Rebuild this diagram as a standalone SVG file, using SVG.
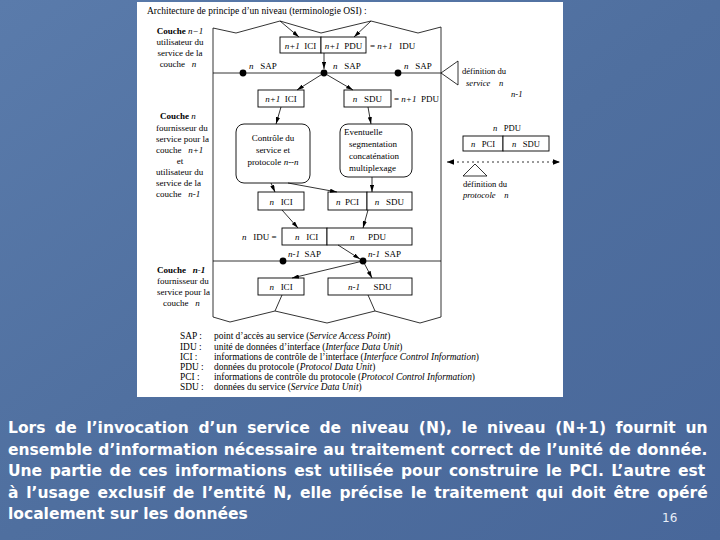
<svg xmlns="http://www.w3.org/2000/svg" width="720" height="540" viewBox="0 0 720 540">
<defs>
<linearGradient id="bg" x1="0" y1="0" x2="1" y2="1">
<stop offset="0" stop-color="#5a7bab"/>
<stop offset="0.5" stop-color="#4f6f9f"/>
<stop offset="1" stop-color="#48679a"/>
</linearGradient>
<marker id="ah" viewBox="0 0 10 6" refX="10" refY="3" markerWidth="7" markerHeight="4.2" markerUnits="userSpaceOnUse" orient="auto"><path d="M0,0L10,3L0,6z" fill="#000"/></marker>
<marker id="ah2" viewBox="0 0 10 8" refX="10" refY="4" markerWidth="7" markerHeight="6" markerUnits="userSpaceOnUse" orient="auto-start-reverse"><path d="M0,0L10,4L0,8z" fill="#000"/></marker>
</defs>
<style>
.t{font-family:"Liberation Serif","Times New Roman",serif;font-size:9px;fill:#000;white-space:pre}
.s{font-size:8.6px}
.lg{font-size:9.4px}
.i{font-style:italic}
.b{font-weight:bold}
.m{text-anchor:middle}
.e{text-anchor:end}
.box{fill:#fff;stroke:#000;stroke-width:0.9}
.ln{stroke:#000;stroke-width:0.8;fill:none}
.ar{stroke:#000;stroke-width:0.8;fill:none;marker-end:url(#ah)}
.dot{fill:#000}
.p{font-family:"DejaVu Sans","Verdana",sans-serif;font-weight:bold;font-size:15.5px;fill:#fff}
</style>
<rect width="720" height="540" fill="url(#bg)"/>
<rect x="137" y="2" width="426" height="395" fill="#fff"/>

<text class="t" x="147" y="14" style="font-size:9.5px">Architecture de principe d’un niveau (terminologie OSI) :</text>

<g id="frame">
<path class="ln" d="M213,28 L236,33 L280,21 L321,33 L371,21 L418,33 L441,27"/>
<path class="ln" d="M213,317 L230,322 L275,311 L327,323 L375,311 L420,323 L441,317"/>
<line class="ln" x1="213" y1="28" x2="213" y2="317"/>
<line class="ln" x1="441" y1="27" x2="441" y2="317"/>
<line class="ln" x1="213" y1="73" x2="441" y2="73"/>
<line class="ln" x1="213" y1="261" x2="441" y2="261"/>
</g>

<g id="labels-left">
<text class="t m" x="180" y="34"><tspan class="b">Couche</tspan> <tspan class="i">n−1</tspan></text>
<text class="t m" x="180" y="45">utilisateur du</text>
<text class="t m" x="180" y="56">service de la</text>
<text class="t m" x="178" y="67">couche   <tspan class="i">n</tspan></text>

<text class="t" x="160" y="119"><tspan class="b">Couche</tspan> <tspan class="i">n</tspan></text>
<text class="t" x="156" y="131">fournisseur du</text>
<text class="t" x="156" y="142">service pour la</text>
<text class="t" x="156" y="153">couche   <tspan class="i">n+1</tspan></text>
<text class="t m" x="180" y="164">et</text>
<text class="t" x="156" y="175">utilisateur du</text>
<text class="t" x="156" y="186">service de la</text>
<text class="t" x="156" y="197">couche   <tspan class="i">n-1</tspan></text>

<text class="t" x="157" y="273"><tspan class="b">Couche</tspan>   <tspan class="i b">n-1</tspan></text>
<text class="t" x="157" y="284">fournisseur du</text>
<text class="t" x="157" y="295">service pour la</text>
<text class="t" x="163" y="306">couche   <tspan class="i">n</tspan></text>
</g>

<g id="n1-idu">
<rect class="box" x="280" y="37" width="41" height="16"/>
<rect class="box" x="321" y="37" width="45" height="16"/>
<text class="t m" x="300.5" y="48.5"><tspan class="i">n+1</tspan>  ICI</text>
<text class="t m" x="343.5" y="48.5"><tspan class="i">n+1</tspan>  PDU</text>
<text class="t" x="370" y="48.5">= <tspan class="i">n+1</tspan>   IDU</text>
</g>

<g id="sap-n">
<circle class="dot" cx="243" cy="73" r="3.4"/>
<circle class="dot" cx="324" cy="73" r="3.4"/>
<circle class="dot" cx="398" cy="73" r="3.4"/>
<text class="t" x="249" y="69"><tspan class="i">n</tspan>   SAP</text>
<text class="t" x="333" y="69"><tspan class="i">n</tspan>   SAP</text>
<text class="t" x="404" y="69"><tspan class="i">n</tspan>   SAP</text>
</g>

<g id="service-def">
<path class="ln" d="M441,73 L458,61 L458,85 Z" fill="#fff"/>
<text class="t s" x="462" y="74">définition du</text>
<text class="t s i" x="466" y="86">service    n</text>
<text class="t s i" x="511" y="97">n-1</text>
</g>

<g id="n1-ici-2">
<rect class="box" x="258" y="90" width="46" height="17"/>
<text class="t m" x="281" y="102"><tspan class="i">n+1</tspan>  ICI</text>
</g>
<g id="n-sdu-2">
<rect class="box" x="344" y="90" width="47" height="17"/>
<text class="t m" x="367.5" y="102"><tspan class="i">n</tspan>   SDU</text>
<text class="t" x="394" y="102">= <tspan class="i">n+1</tspan>  PDU</text>
</g>

<g id="controle">
<rect class="box" x="236" y="124" width="74" height="59" rx="8"/>
<text class="t m" x="273" y="141">Contrôle du</text>
<text class="t m" x="273" y="153">service et</text>
<text class="t m" x="273" y="165">protocole <tspan class="i">n--n</tspan></text>
</g>
<g id="eventuelle">
<rect class="box" x="340" y="124" width="72" height="53" rx="8"/>
<text class="t" x="344" y="135">Eventuelle</text>
<text class="t" x="349" y="147">segmentation</text>
<text class="t" x="349" y="159">concaténation</text>
<text class="t" x="349" y="171">multiplexage</text>
</g>

<g id="n-ici-4">
<rect class="box" x="258" y="192" width="46" height="18"/>
<text class="t m" x="281" y="204.5"><tspan class="i">n</tspan>   ICI</text>
</g>
<g id="n-pci-sdu-4">
<rect class="box" x="328" y="192" width="39" height="18"/>
<rect class="box" x="367" y="192" width="45" height="18"/>
<text class="t m" x="347.5" y="204.5"><tspan class="i">n</tspan>  PCI</text>
<text class="t m" x="389.5" y="204.5"><tspan class="i">n</tspan>   SDU</text>
</g>

<g id="n-idu">
<text class="t" x="242" y="240"><tspan class="i">n</tspan>   IDU =</text>
<rect class="box" x="282" y="228" width="45" height="17"/>
<rect class="box" x="327" y="228" width="85" height="17"/>
<text class="t" x="295" y="240"><tspan class="i">n</tspan>   ICI</text>
<text class="t" x="350" y="240"><tspan class="i">n</tspan>      PDU</text>
</g>

<g id="sap-n-1">
<circle class="dot" cx="283" cy="261" r="3.4"/>
<circle class="dot" cx="363" cy="261" r="3.4"/>
<text class="t" x="288" y="257"><tspan class="i">n-1</tspan>  SAP</text>
<text class="t" x="368" y="257"><tspan class="i">n-1</tspan>  SAP</text>
</g>

<g id="n-ici-6">
<rect class="box" x="258" y="278" width="46" height="17"/>
<text class="t m" x="281" y="290"><tspan class="i">n</tspan>   ICI</text>
</g>
<g id="n-1-sdu-6">
<rect class="box" x="328" y="278" width="84" height="17"/>
<text class="t" x="348" y="290"><tspan class="i">n-1</tspan>      SDU</text>
</g>

<g id="protocol-def">
<text class="t s" x="493" y="131"><tspan class="i">n</tspan>   PDU</text>
<rect class="box" x="463" y="136" width="40" height="15"/>
<rect class="box" x="503" y="136" width="46" height="15"/>
<text class="t s m" x="483" y="146.5"><tspan class="i">n</tspan>   PCI</text>
<text class="t s m" x="526" y="146.5"><tspan class="i">n</tspan>   SDU</text>
<path class="ln" d="M475,164 L487,176 L463,176 Z" fill="#fff"/>
<text class="t s" x="463" y="187">définition du</text>
<text class="t s i" x="463" y="198">protocole    n</text>
</g>

<g id="connectors">
<line class="ar" x1="280" y1="21" x2="299" y2="37"/>
<line class="ar" x1="371" y1="21" x2="354" y2="37"/>
<line class="ar" x1="324" y1="53" x2="324" y2="69"/>
<line class="ar" x1="324" y1="73" x2="297" y2="90"/>
<line class="ar" x1="324" y1="73" x2="353" y2="90"/>
<line class="ar" x1="281" y1="107" x2="276" y2="124"/>
<line class="ar" x1="368" y1="107" x2="371" y2="124"/>
<line class="ar" x1="271" y1="183" x2="275" y2="192"/>
<line class="ar" x1="288" y1="183" x2="337" y2="192"/>
<line class="ar" x1="372" y1="177" x2="372" y2="192"/>
<line class="ar" x1="282" y1="210" x2="298" y2="228"/>
<line class="ar" x1="368" y1="210" x2="363" y2="228"/>
<line class="ar" x1="338" y1="245" x2="360" y2="259"/>
<line class="ar" x1="363" y1="261" x2="292" y2="278"/>
<line class="ar" x1="363" y1="261" x2="372" y2="278"/>
<line class="ln" x1="282" y1="295" x2="275" y2="311"/>
<line class="ln" x1="368" y1="295" x2="375" y2="311"/>
<line x1="447" y1="162" x2="560" y2="162" stroke="#000" stroke-width="0.8" stroke-dasharray="2,3" marker-start="url(#ah2)" marker-end="url(#ah2)"/>
</g>

<g id="legend">
<text class="t lg" x="180" y="339">SAP :</text>
<text class="t lg" x="180" y="349.5">IDU :</text>
<text class="t lg" x="180" y="359.5">ICI :</text>
<text class="t lg" x="180" y="370">PDU :</text>
<text class="t lg" x="180" y="380">PCI :</text>
<text class="t lg" x="180" y="390">SDU :</text>
<text class="t lg" x="214" y="339">point d’accès au service (<tspan class="i">Service Access Point</tspan>)</text>
<text class="t lg" x="214" y="349.5">unité de données d’interface (<tspan class="i">Interface Data Unit</tspan>)</text>
<text class="t lg" x="214" y="359.5">informations de contrôle de l’interface (<tspan class="i">Interface Control Information</tspan>)</text>
<text class="t lg" x="214" y="370">données du protocole (<tspan class="i">Protocol Data Unit</tspan>)</text>
<text class="t lg" x="214" y="380">informations de contrôle du protocole (<tspan class="i">Protocol Control Information</tspan>)</text>
<text class="t lg" x="214" y="390">données du service (<tspan class="i">Service Data Unit</tspan>)</text>
</g>

<g id="paragraph">
<text class="p" x="8" y="433" word-spacing="4.3">Lors de l’invocation d’un service de niveau (N), le niveau (N+1) fournit un</text>
<text class="p" x="8" y="454.5" word-spacing="0.6">ensemble d’information nécessaire au traitement correct de l’unité de donnée.</text>
<text class="p" x="8" y="476" word-spacing="2.1">Une partie de ces informations est utilisée pour construire le PCI. L’autre est</text>
<text class="p" x="8" y="497.5" word-spacing="2.4">à l’usage exclusif de l’entité N, elle précise le traitement qui doit être opéré</text>
<text class="p" x="8" y="519">localement sur les données</text>
<text x="662" y="522" font-family="'DejaVu Sans',sans-serif" font-size="12" fill="#e8eef8">16</text>
</g>
</svg>
